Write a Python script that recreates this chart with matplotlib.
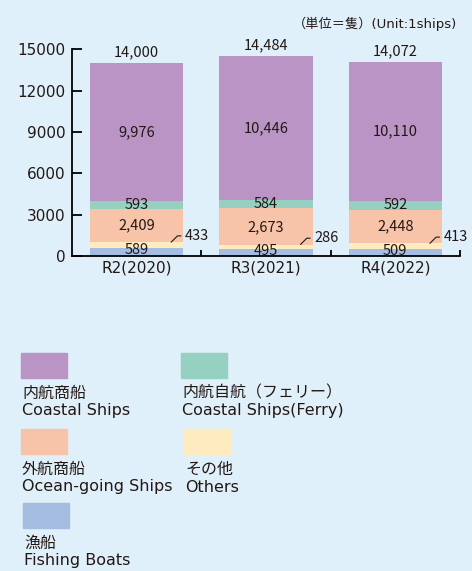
import matplotlib
matplotlib.use("Agg")
import matplotlib.pyplot as plt
from matplotlib.patches import Rectangle
import numpy as np

# Latin glyphs from DejaVu (wider, like the original), Japanese from Noto
plt.rcParams['font.family'] = ['DejaVu Sans', 'Noto Sans CJK JP']

# data
years = ['R2(2020)', 'R3(2021)', 'R4(2022)']
fishing = [589, 495, 509]
others = [433, 286, 413]
ocean = [2409, 2673, 2448]
ferry = [593, 584, 592]
coastal = [9976, 10446, 10110]
totals = [14000, 14484, 14072]
yticks = [0, 3000, 6000, 9000, 12000, 15000]

names_jp = ['内航商船', '内航自航（フェリー）', '外航商船', 'その他', '漁船']
names_en = ['Coastal Ships', 'Coastal Ships(Ferry)', 'Ocean-going Ships', 'Others', 'Fishing Boats']

c_coastal = '#b994c4'
c_ferry = '#96d0c0'
c_ocean = '#f8c4a9'
c_others = '#feebc0'
c_fishing = '#a4bde1'
bg = '#dff0fa'
txt = '#231815'

W, H = 472, 571
fig = plt.figure(figsize=(W / 100, H / 100), dpi=100, facecolor=bg)
ax = fig.add_axes([72 / W, 1 - 256 / H, 388 / W, 206.7 / H])
ax.set_facecolor(bg)

x = np.arange(len(years))
w = 0.72
fishing = np.array(fishing)
others = np.array(others)
ocean = np.array(ocean)
ferry = np.array(ferry)
coastal = np.array(coastal)

b1 = fishing
b2 = b1 + others
b3 = b2 + ocean
b4 = b3 + ferry
ax.bar(x, fishing, w, color=c_fishing)
ax.bar(x, others, w, bottom=b1, color=c_others)
ax.bar(x, ocean, w, bottom=b2, color=c_ocean)
ax.bar(x, ferry, w, bottom=b3, color=c_ferry)
ax.bar(x, coastal, w, bottom=b4, color=c_coastal)

# value labels: narrower digits, so use Noto here
lab = dict(fontsize=10.5, color=txt, family=['Noto Sans CJK JP'])
for i in range(len(years)):
    ax.text(x[i], b4[i] + coastal[i] / 2, f'{coastal[i]:,}', ha='center', va='center', **lab)
    ax.text(x[i], b3[i] + ferry[i] / 2, f'{ferry[i]:,}', ha='center', va='center', **lab)
    ax.text(x[i], b2[i] + ocean[i] / 2, f'{ocean[i]:,}', ha='center', va='center', **lab)
    ax.text(x[i], fishing[i] / 2 + 130, f'{fishing[i]:,}', ha='center', va='center', **lab)
    ax.annotate(f'{totals[i]:,}', xy=(x[i], totals[i]), xytext=(0, 8), textcoords='offset points',
                ha='center', va='center', annotation_clip=False, **lab)
    ax.annotate(f'{others[i]:,}', xy=(x[i] + 0.267, b1[i] + others[i] / 2 + 200),
                xytext=(10, 4.5), textcoords='offset points', ha='left', va='center',
                annotation_clip=False, **lab,
                arrowprops=dict(arrowstyle='-', color=txt, lw=0.8, shrinkA=1, shrinkB=0,
                                connectionstyle='angle,angleA=0,angleB=45,rad=0'))

ax.set_xlim(-0.5, 2.5)
ax.set_ylim(0, 15000)
ax.set_yticks(yticks)
ax.set_yticklabels([str(v) for v in yticks], fontsize=11, color=txt)
ax.set_xticks(x)
ax.set_xticklabels(years, fontsize=11, color=txt)
ax.set_xticks([0.5, 1.5, 2.5], minor=True)
ax.tick_params(axis='x', which='major', length=0, pad=3)
ax.tick_params(axis='x', which='minor', length=4, width=1.3, direction='in', color='black')
ax.tick_params(axis='y', length=7, width=1.3, direction='in', pad=4.5)
for s in ['top', 'right']:
    ax.spines[s].set_visible(False)
for s in ['left', 'bottom']:
    ax.spines[s].set_linewidth(1.3)
    ax.spines[s].set_color('black')

fig.text(457 / W, 1 - 24 / H, '（単位＝隻）(Unit:1ships)', ha='right', va='center', fontsize=9.5, color=txt)

# legend drawn by hand
colors = [c_coastal, c_ferry, c_ocean, c_others, c_fishing]
pos = [(21, 353), (181, 353), (21, 429), (184, 429), (23, 503)]
for col, (px, py), jp, en in zip(colors, pos, names_jp, names_en):
    fig.patches.append(Rectangle((px / W, 1 - (py + 25) / H), 46 / W, 25 / H,
                                 transform=fig.transFigure, color=col))
    fig.text((px + 1) / W, 1 - (py + 40) / H, jp, ha='left', va='center', fontsize=11.5, color=txt)
    fig.text((px + 1) / W, 1 - (py + 58) / H, en, ha='left', va='center', fontsize=11.5, color=txt)

fig.savefig('out.png', dpi=100, facecolor=bg)
